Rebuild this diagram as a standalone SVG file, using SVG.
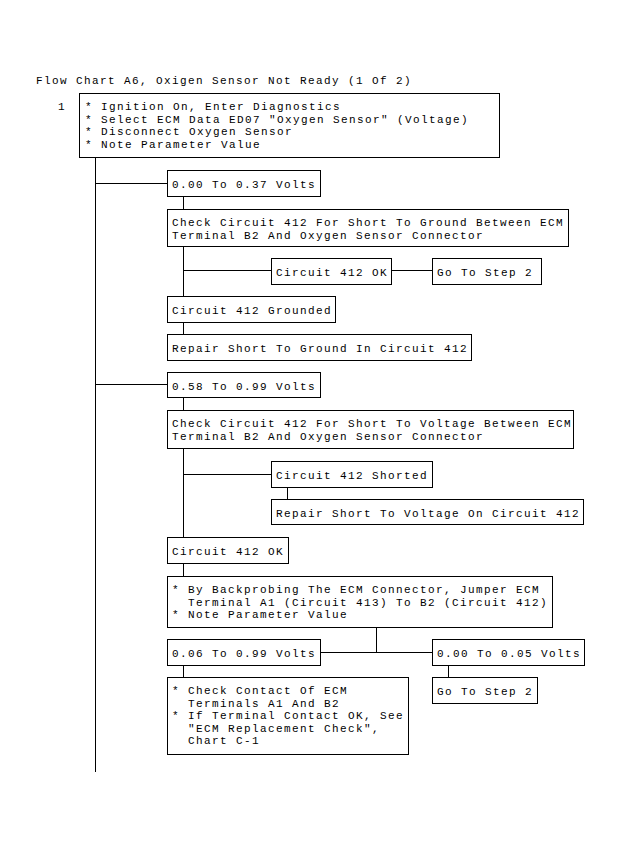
<svg xmlns="http://www.w3.org/2000/svg" width="622" height="848" viewBox="0 0 622 848">
<style>
text{font-family:"Liberation Mono","DejaVu Sans Mono",monospace;font-size:11px;letter-spacing:1.4px;fill:#000;white-space:pre}
rect.b{fill:#fff;stroke:#000;stroke-width:1}
.c line{stroke:#000;stroke-width:1}
</style>
<rect x="0" y="0" width="622" height="848" fill="#fff"/>
<text x="36" y="84">Flow Chart A6, Oxigen Sensor Not Ready (1 Of 2)</text>
<g class="c" id="connectors">
<line x1="95.5" y1="157" x2="95.5" y2="772"/>
<line x1="95" y1="183.5" x2="167" y2="183.5"/>
<line x1="183.5" y1="196" x2="183.5" y2="209"/>
<line x1="183.5" y1="246" x2="183.5" y2="296"/>
<line x1="183" y1="270.5" x2="271" y2="270.5"/>
<line x1="391" y1="270.5" x2="432" y2="270.5"/>
<line x1="183.5" y1="322" x2="183.5" y2="334"/>
<line x1="95" y1="384.5" x2="167" y2="384.5"/>
<line x1="183.5" y1="397" x2="183.5" y2="410"/>
<line x1="183.5" y1="448" x2="183.5" y2="537"/>
<line x1="183" y1="474.5" x2="271" y2="474.5"/>
<line x1="287.5" y1="487" x2="287.5" y2="499"/>
<line x1="183.5" y1="563" x2="183.5" y2="576"/>
<line x1="376.5" y1="627" x2="376.5" y2="652"/>
<line x1="320" y1="652.5" x2="432" y2="652.5"/>
<line x1="183.5" y1="665" x2="183.5" y2="677"/>
<line x1="448.5" y1="665" x2="448.5" y2="677"/>
</g>
<g id="n1">
<text x="58" y="110">1</text>
<rect class="b" x="79.5" y="93.5" width="420" height="64"/>
<text x="85" y="110">* Ignition On, Enter Diagnostics</text>
<text x="85" y="122.5">* Select ECM Data ED07 "Oxygen Sensor" (Voltage)</text>
<text x="85" y="135">* Disconnect Oxygen Sensor</text>
<text x="85" y="147.5">* Note Parameter Value</text>
</g>
<g id="n2"><rect class="b" x="167.5" y="170.5" width="153" height="26"/><text x="172" y="188">0.00 To 0.37 Volts</text></g>
<g id="n3"><rect class="b" x="167.5" y="209.5" width="401" height="37"/><text x="172" y="226">Check Circuit 412 For Short To Ground Between ECM</text><text x="172" y="238.5">Terminal B2 And Oxygen Sensor Connector</text></g>
<g id="n4"><rect class="b" x="271.5" y="258.5" width="120" height="26"/><text x="276" y="276">Circuit 412 OK</text></g>
<g id="n5"><rect class="b" x="432.5" y="258.5" width="109" height="26"/><text x="437" y="276">Go To Step 2</text></g>
<g id="n6"><rect class="b" x="167.5" y="296.5" width="168" height="26"/><text x="172" y="314">Circuit 412 Grounded</text></g>
<g id="n7"><rect class="b" x="167.5" y="334.5" width="304" height="26"/><text x="172" y="352">Repair Short To Ground In Circuit 412</text></g>
<g id="n8"><rect class="b" x="167.5" y="372.5" width="153" height="25"/><text x="172" y="390">0.58 To 0.99 Volts</text></g>
<g id="n9"><rect class="b" x="167.5" y="410.5" width="406" height="38"/><text x="172" y="427">Check Circuit 412 For Short To Voltage Between ECM</text><text x="172" y="439.5">Terminal B2 And Oxygen Sensor Connector</text></g>
<g id="n10"><rect class="b" x="271.5" y="461.5" width="161" height="26"/><text x="276" y="479">Circuit 412 Shorted</text></g>
<g id="n11"><rect class="b" x="271.5" y="499.5" width="312" height="25"/><text x="276" y="517">Repair Short To Voltage On Circuit 412</text></g>
<g id="n12"><rect class="b" x="167.5" y="537.5" width="121" height="26"/><text x="172" y="555">Circuit 412 OK</text></g>
<g id="n13"><rect class="b" x="167.5" y="576.5" width="385" height="51"/><text x="172" y="593">* By Backprobing The ECM Connector, Jumper ECM</text><text x="172" y="605.5">  Terminal A1 (Circuit 413) To B2 (Circuit 412)</text><text x="172" y="618">* Note Parameter Value</text></g>
<g id="n14"><rect class="b" x="167.5" y="639.5" width="153" height="26"/><text x="172" y="657">0.06 To 0.99 Volts</text></g>
<g id="n15"><rect class="b" x="432.5" y="639.5" width="152" height="26"/><text x="437" y="657">0.00 To 0.05 Volts</text></g>
<g id="n16"><rect class="b" x="167.5" y="677.5" width="241" height="77"/><text x="172" y="694">* Check Contact Of ECM</text><text x="172" y="706.5">  Terminals A1 And B2</text><text x="172" y="719">* If Terminal Contact OK, See</text><text x="172" y="731.5">  "ECM Replacement Check",</text><text x="172" y="744">  Chart C-1</text></g>
<g id="n17"><rect class="b" x="432.5" y="677.5" width="105" height="26"/><text x="437" y="695">Go To Step 2</text></g>
</svg>
